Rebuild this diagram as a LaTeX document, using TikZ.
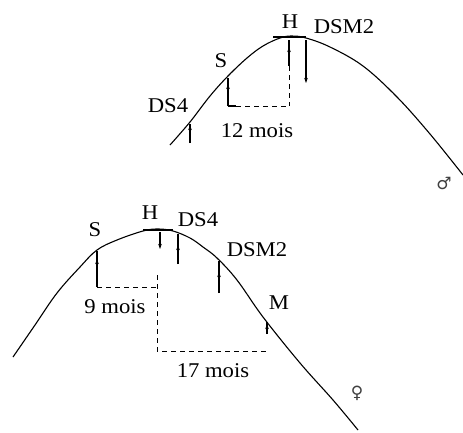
\documentclass[tikz,border=0pt]{standalone}
\usepackage{fontspec}
\setmainfont{Liberation Serif}[FakeStretch=1.08]
\newfontfamily\symfont{DejaVu Sans}
\usetikzlibrary{arrows.meta}
\tikzset{
  curve/.style={line width=1.1pt},
  bar/.style={line width=2.8pt},
  tick/.style={line width=1.1pt},
  head/.style={line width=1.1pt,-{Stealth[length=5pt,width=3.5pt]}},
  dsh/.style={line width=1pt,dash pattern=on 5pt off 4pt},
  lab/.style={font=\fontsize{21}{21}\selectfont,inner sep=0pt},
  sym/.style={font=\symfont\fontsize{17}{17}\selectfont,inner sep=0pt,text=black!75}
}
\begin{document}
\begin{tikzpicture}[x=1pt,y=-1pt]
\useasboundingbox (0,0) rectangle (463,432);
% ---------- top curve (male) ----------
\draw[curve] plot[smooth,tension=0.6] coordinates {(170,145) (190,122) (210,96) (228,76) (247,58) (263,46) (280,38) (292,36) (306,38) (330,47) (363,66) (397,97) (430,134) (463,175)};
\coordinate (tHa) at (273,37); \coordinate (tHb) at (306,37);
\draw[bar] (tHa) -- (tHb);
% DS4 arrow
\coordinate (tD4a) at (190,143); \coordinate (tD4b) at (190,124);
\draw[tick] (tD4a) -- (tD4b);
\draw[head] (190,132) -- (190,125);
% S arrow
\coordinate (tSa) at (228,106); \coordinate (tSb) at (228,78);
\draw[tick] (tSa) -- (tSb);
\draw[head] (228,92) -- (228,84);
\coordinate (tSc) at (236,106);
\draw[tick] (tSa) -- (tSc);
% horizontal dashed and vertical dashed
\coordinate (tHv) at (289,106); \coordinate (tHt) at (289,40);
\draw[dsh] (tSc) -- (tHv);
\draw[tick] (tHt) -- (289,66);
\draw[head] (289,58) -- (289,47);
\draw[dsh] (289,66) -- (tHv);
% DSM2 arrow (down)
\coordinate (tM2a) at (306,40); \coordinate (tM2b) at (306,83);
\draw[tick] (tM2a) -- (306,76);
\draw[head] (306,72) -- (tM2b);
% labels
\node[lab] (tH) at (290,22) {H};
\node[lab] (tDSM2) at (344,27) {DSM2};
\node[lab] (tS) at (221,61) {S};
\node[lab] (tDS4) at (168,106) {DS4};
\node[lab] (t12) at (257,131) {12 mois};
\node[sym] (male) at (444,183) {♂};
% ---------- bottom curve (female) ----------
\draw[curve] plot[smooth,tension=0.6] coordinates {(13,357) (35,325) (57,293) (80,267) (97,250) (117,240) (143,231) (158,229) (173,231) (190,238) (203,247) (217,258) (237,280) (263,317) (300,363) (333,400) (358,430)};
\coordinate (bHa) at (143,230); \coordinate (bHb) at (173,230);
\draw[bar] (bHa) -- (bHb);
% S arrow
\coordinate (bSa) at (97,287); \coordinate (bSb) at (97,251);
\draw[tick] (bSa) -- (bSb);
\draw[head] (97,268) -- (97,259);
% H arrow (down)
\coordinate (bH1) at (160,232); \coordinate (bH2) at (160,249);
\draw[tick] (bH1) -- (160,242);
\draw[head] (160,240) -- (bH2);
% DS4 arrow
\coordinate (bD4a) at (178,264); \coordinate (bD4b) at (178,234);
\draw[tick] (bD4a) -- (bD4b);
\draw[head] (178,253) -- (178,245);
% DSM2 arrow
\coordinate (bM2a) at (219,293); \coordinate (bM2b) at (219,261);
\draw[tick] (bM2a) -- (bM2b);
\draw[head] (219,282) -- (219,272);
% M arrow
\coordinate (bMa) at (267,334); \coordinate (bMb) at (267,322);
\draw[tick] (bMa) -- (bMb);
\draw[head] (267,332) -- (267,324);
% dashed lines
\coordinate (bC1) at (157,287); \coordinate (bC2) at (157,351); \coordinate (bC3) at (267,351);
\draw[dsh] (bSa) -- (bC1);
\draw[dsh] (157,275) -- (bC2) -- (bC3);
% labels
\node[lab] (bS) at (95,230) {S};
\node[lab] (bH) at (150,213) {H};
\node[lab] (bDS4) at (198,220) {DS4};
\node[lab] (bDSM2) at (257,250) {DSM2};
\node[lab] (bM) at (279,303) {M};
\node[lab] (b9) at (115,307) {9 mois};
\node[lab] (b17) at (213,371) {17 mois};
\node[sym] (female) at (357,393) {♀};
\end{tikzpicture}
\end{document}
